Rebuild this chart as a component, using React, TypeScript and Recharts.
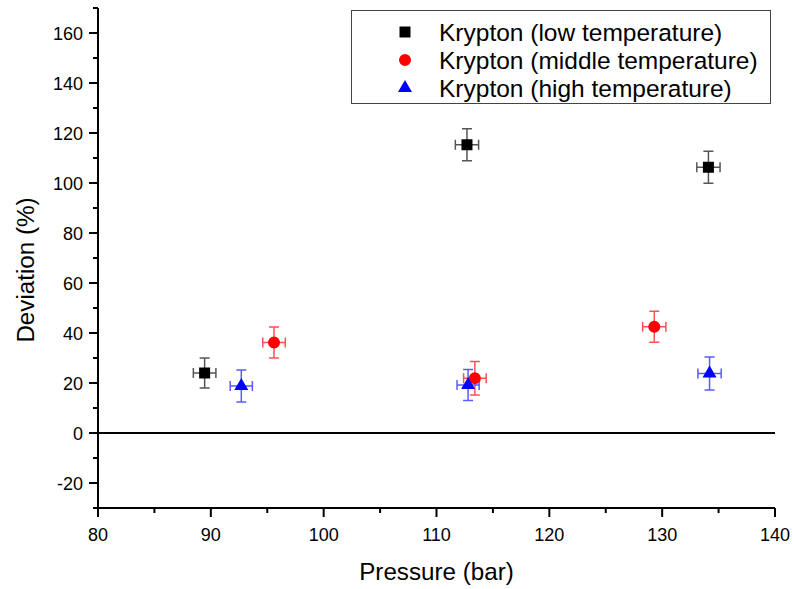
import React from 'react';
import { ScatterChart, Scatter, XAxis, YAxis, ErrorBar, ReferenceLine, Legend, Symbols } from 'recharts';

const xTicks = [80, 85, 90, 95, 100, 105, 110, 115, 120, 125, 130, 135, 140];
const xMajor = [80, 90, 100, 110, 120, 130, 140];
const yTicks = [-30, -20, -10, 0, 10, 20, 30, 40, 50, 60, 70, 80, 90, 100, 110, 120, 130, 140, 150, 160, 170];
const yMajor = [-20, 0, 20, 40, 60, 80, 100, 120, 140, 160];

const lowX = [89.45, 112.7, 134.1];
const lowY = [24, 115.3, 106.3];
const lowXErr = [1.0, 1.03, 1.03];
const lowYErr = [6, 6.4, 6.4];

const midX = [95.6, 113.4, 129.3];
const midY = [36.2, 21.9, 42.5];
const midXErr = [1.0, 1.0, 1.03];
const midYErr = [6.2, 6.7, 6.2];

const highX = [92.7, 112.8, 134.2];
const highY = [18.8, 19.2, 23.8];
const highXErr = [0.98, 0.98, 1.03];
const highYErr = [6.4, 6.2, 6.6];

const seriesNames = ['Krypton (low temperature)', 'Krypton (middle temperature)', 'Krypton (high temperature)'];
const seriesColors = ['#000000', '#ff0000', '#0000ff'];
const errColors = ['#555555', '#ff5050', '#5a5aff'];
const seriesShapes: ('square' | 'circle' | 'triangle')[] = ['square', 'circle', 'triangle'];
const seriesSizes = [121, 113, 85];

const build = (xs: number[], ys: number[], exs: number[], eys: number[]) =>
  xs.map((x, i) => ({ x, y: ys[i], ex: exs[i], ey: eys[i] }));

const lowData = build(lowX, lowY, lowXErr, lowYErr);
const midData = build(midX, midY, midXErr, midYErr);
const highData = build(highX, highY, highXErr, highYErr);
const allData = [lowData, midData, highData];

const FONT = 'Arial, "Liberation Sans", sans-serif';

const XTick = (props: any) => {
  const { x, y, payload } = props;
  const major = xMajor.includes(payload.value);
  return (
    <g>
      <line x1={x} y1={y} x2={x} y2={y + (major ? 9 : 5)} stroke="#000" strokeWidth={2} />
      {major && (
        <text x={x} y={y + 33} textAnchor="middle" fontSize={18} fontFamily={FONT} fill="#000">
          {payload.value}
        </text>
      )}
    </g>
  );
};

const YTick = (props: any) => {
  const { x, y, payload } = props;
  const major = yMajor.includes(payload.value);
  return (
    <g>
      <line x1={x} y1={y} x2={x - (major ? 9 : 5)} y2={y} stroke="#000" strokeWidth={2} />
      {major && (
        <text x={x - 15} y={y + 6.5} textAnchor="end" fontSize={18} fontFamily={FONT} fill="#000">
          {payload.value}
        </text>
      )}
    </g>
  );
};

const makeShape = (idx: number) => (props: any) => (
  <Symbols cx={props.cx} cy={props.cy} type={seriesShapes[idx]} size={seriesSizes[idx]} fill={seriesColors[idx]} />
);

const renderLegend = () => (
  <div
    style={{
      width: 420,
      height: 94,
      border: '1.5px solid #444',
      background: '#fff',
      boxSizing: 'border-box',
      position: 'relative',
    }}
  >
    <svg width={418} height={92} style={{ position: 'absolute', left: 0, top: 0 }}>
      {seriesNames.map((name, i) => (
        <g key={name}>
          <Symbols cx={53} cy={21 + i * 28} type={seriesShapes[i]} size={seriesSizes[i]} fill={seriesColors[i]} />
          <text x={87} y={29.5 + i * 28} fontSize={24.5} fontFamily={FONT} fill="#000">
            {name}
          </text>
        </g>
      ))}
    </svg>
  </div>
);

export default function App() {
  return (
    <div style={{ position: 'absolute', left: 0, top: 0, width: 793, height: 589, background: '#fff' }}>
      <ScatterChart width={793} height={589} margin={{ top: 8, right: 18, left: 0, bottom: 0 }}>
        <XAxis
          type="number"
          dataKey="x"
          domain={[80, 140]}
          ticks={xTicks}
          interval={0}
          tickSize={0}
          tickMargin={0}
          tickLine={false}
          axisLine={{ stroke: '#000', strokeWidth: 2 }}
          tick={<XTick />}
          height={81}
          allowDataOverflow
          label={(p: any) => {
            const vb = p.viewBox;
            return (
              <text x={vb.x + vb.width / 2} y={580} textAnchor="middle" fontSize={24.2} fontFamily={FONT} fill="#000">
                Pressure (bar)
              </text>
            );
          }}
        />
        <YAxis
          type="number"
          dataKey="y"
          domain={[-30, 170]}
          ticks={yTicks}
          interval={0}
          tickSize={0}
          tickMargin={0}
          tickLine={false}
          axisLine={{ stroke: '#000', strokeWidth: 2 }}
          tick={<YTick />}
          width={98}
          allowDataOverflow
          label={() => (
            <text
              x={34}
              y={270}
              transform="rotate(-90 34 270)"
              textAnchor="middle"
              fontSize={24.2}
              fontFamily={FONT}
              fill="#000"
            >
              Deviation (%)
            </text>
          )}
        />
        <ReferenceLine y={0} stroke="#000" strokeWidth={2} ifOverflow="extendDomain" />
        <Legend
          layout="vertical"
          align="center"
          verticalAlign="middle"
          content={renderLegend}
          wrapperStyle={{ position: 'absolute', left: 351, top: 10, width: 420, height: 95 }}
        />
        {allData.map((data, i) => (
          <Scatter
            key={seriesNames[i]}
            name={seriesNames[i]}
            data={data}
            fill={seriesColors[i]}
            shape={makeShape(i)}
            isAnimationActive={false}
          >
            <ErrorBar dataKey="ey" direction="y" width={5} stroke={errColors[i]} strokeWidth={1.5} />
            <ErrorBar dataKey="ex" direction="x" width={5} stroke={errColors[i]} strokeWidth={1.5} />
          </Scatter>
        ))}
      </ScatterChart>
    </div>
  );
}
